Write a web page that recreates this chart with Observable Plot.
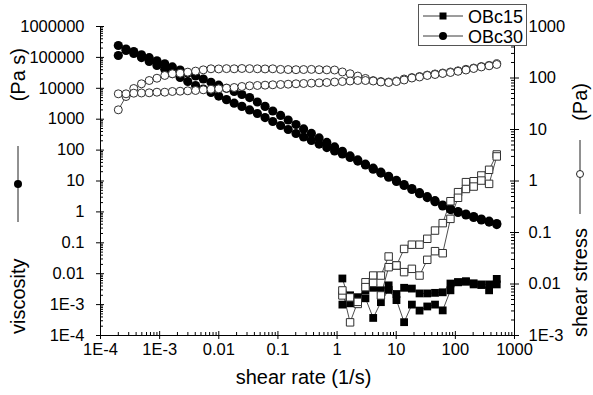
<!DOCTYPE html>
<html>
<head>
<meta charset="utf-8">
<script src="https://cdn.jsdelivr.net/npm/d3@7"></script>
<script src="https://cdn.jsdelivr.net/npm/@observablehq/plot@0.6"></script>
<style>
  body { margin: 0; background: #fff; }
  #wrap { position: relative; width: 593px; height: 395px; font-family: "Liberation Sans", Arial, sans-serif; }
  #overlay { position: absolute; left: 0; top: 0; pointer-events: none; }
</style>
</head>
<body>
<div id="wrap"></div>
<script>
// ---- data ----
const shearRate30 = [2.0e-4, 2.7e-4, 3.65e-4, 4.93e-4, 6.66e-4, 9.0e-4, 1.22e-3, 1.64e-3, 2.22e-3, 2.99e-3,
  4.05e-3, 5.47e-3, 7.38e-3, 9.97e-3, 0.0135, 0.0182, 0.0246, 0.0332, 0.0449, 0.0606,
  0.0818, 0.111, 0.149, 0.202, 0.272, 0.368, 0.497, 0.671, 0.908, 1.23,
  1.66, 2.24, 3.02, 4.08, 5.51, 7.45, 10.1, 13.6, 18.4, 24.8,
  33.5, 45.3, 61.1, 82.6, 111, 151, 204, 275, 372, 501];
const viscosity30A = [115000, 187000, 154000, 122000, 98000, 78000, 62000, 49000, 39000, 31000,
  25000, 20000, 15700, 12600, 10000, 7900, 6300, 5000, 3600, 2600,
  1840, 1320, 942, 673, 485, 347, 248, 177, 127, 91,
  65, 48, 35, 26, 19.3, 14.2, 10.4, 7.7, 5.7, 4.2,
  3.1, 2.3, 1.67, 1.27, 1.03, 0.85, 0.71, 0.59, 0.50, 0.42];
const stress30A = [24.1, 43.7, 62.5, 77.2, 89.4, 99, 112, 121, 124, 130,
  136, 144, 151, 150, 152, 151, 153, 152, 151, 150,
  151, 147, 146, 145, 146, 147, 145, 144, 143, 131,
  121, 109, 98, 89, 85.5, 83.6, 87.4, 95.6, 102, 107,
  114, 120, 125, 131, 138, 147.5, 156, 167, 176, 189];
const viscosity30B = [243000, 167000, 134000, 99000, 74000, 55000, 41000, 30000, 22400, 16600,
  12300, 9500, 7300, 5600, 4300, 3300, 2600, 2000, 1530, 1130,
  843, 625, 464, 345, 265, 205, 157, 121, 94, 75,
  58, 44, 33, 24, 18, 13.3, 9.7, 7.2, 5.3, 3.9,
  2.9, 2.15, 1.56, 1.19, 0.96, 0.80, 0.66, 0.55, 0.47, 0.39];
const stress30B = [49.3, 49.3, 50.7, 51.2, 51.6, 53, 53, 54.7, 55.4, 56.4,
  57.2, 59, 60.6, 61.7, 63.4, 65.4, 68.4, 70.6, 71.6, 72.6,
  73.8, 74.8, 75.8, 77.2, 78.2, 79.3, 80.5, 81.8, 83.7, 85.5,
  87.4, 89.4, 89.4, 87.4, 83.7, 81.8, 85.5, 91.5, 100, 104.6,
  112, 117, 122.5, 128, 135, 143, 153, 164, 172.5, 183];

const shearRate15 = [1.23, 1.66, 2.24, 3.02, 4.08, 5.51, 7.45, 10.1, 13.6, 18.4,
  24.8, 33.5, 45.3, 61.1, 82.6, 111, 151, 204, 275, 372, 501];
const viscosity15A = [7.0e-3, 1.1e-3, 1.74e-3, 2.9e-3, 3.5e-3, 2.9e-3, 4.2e-3, 2.2e-3, 3.5e-3, 3.3e-3,
  2.3e-3, 2.3e-3, 2.4e-3, 2.5e-3, 4.8e-3, 5.3e-3, 5.7e-3, 4.9e-3, 4.5e-3, 4.5e-3, 6.8e-3];
const viscosity15B = [1.0e-3, 2.0e-3, 1.2e-3, 1.6e-3, 3.7e-4, 1.2e-3, 3.0e-3, 1.4e-3, 2.7e-4, 1.0e-3,
  6.4e-4, 8.7e-4, 1.0e-3, 6.5e-4, 2.9e-3, 5.3e-3, 5.5e-3, 4.5e-3, 4.3e-3, 2.9e-3, 4.5e-3];
const stress15A = [6.0e-3, 5.5e-3, 4.1e-3, 0.0108, 0.0146, 0.0146, 0.0342, 0.0229, 0.048, 0.058,
  0.058, 0.0755, 0.109, 0.152, 0.405, 0.607, 0.95, 0.99, 1.28, 1.65, 3.27];
const stress15B = [7.5e-3, 1.8e-3, 4.5e-3, 8.7e-3, 0.0105, 6.0e-3, 0.0212, 0.0229, 0.017, 0.0197,
  0.0146, 0.0295, 0.0434, 0.0396, 0.184, 0.472, 0.70, 0.78, 1.02, 0.88, 3.0];

const xTickValues = [1e-4, 1e-3, 1e-2, 1e-1, 1, 10, 100, 1000];
const xTickLabels = ["1E-4", "1E-3", "0.01", "0.1", "1", "10", "100", "1000"];
const yLeftTickValues = [1e-4, 1e-3, 1e-2, 1e-1, 1, 10, 100, 1000, 1e4, 1e5, 1e6];
const yLeftTickLabels = ["1E-4", "1E-3", "0.01", "0.1", "1", "10", "100", "1000", "10000", "100000", "1000000"];
const yRightTickValues = [1e-3, 1e-2, 1e-1, 1, 10, 100, 1000];
const yRightTickLabels = ["1E-3", "0.01", "0.1", "1", "10", "100", "1000"];
const seriesNames = ["OBc15", "OBc30"];
const xTitle = "shear rate (1/s)";
const leftTitle = ["viscosity", "(Pa s)"];
const rightTitle = ["shear stress", "(Pa)"];

// ---- layout ----
const W = 593, H = 395;
const mL = 100, mR = 79, mT = 26, mB = 60;
const frameW = W - mL - mR, frameH = H - mT - mB;

// right axis (shear stress 1E-3..1000) mapped onto left scale (1E-4..1E6)
const toLeft = s => Math.pow(10, -4 + (Math.log10(s) + 3) * 10 / 6);

const rows = (xs, ys) => xs.map((x, i) => ({x, y: ys[i]}));
const v30A = rows(shearRate30, viscosity30A), v30B = rows(shearRate30, viscosity30B);
const s30A = rows(shearRate30, stress30A), s30B = rows(shearRate30, stress30B);
const v15A = rows(shearRate15, viscosity15A), v15B = rows(shearRate15, viscosity15B);
const s15A = rows(shearRate15, stress15A), s15B = rows(shearRate15, stress15B);

const minorsOf = (lo, hi) => { const out = []; for (let e = lo; e < hi; e++) for (let m = 2; m <= 9; m++) out.push(m * Math.pow(10, e)); return out; };
const xMinor = minorsOf(-4, 3);
const yMinor = minorsOf(-4, 6);
const rightMajorPos = yRightTickValues.map(toLeft);
const rightMinorPos = minorsOf(-3, 3).map(toLeft);

const xLab = new Map(xTickValues.map((v, i) => [v, xTickLabels[i]]));
const yLab = new Map(yLeftTickValues.map((v, i) => [v, yLeftTickLabels[i]]));
const rLab = new Map(rightMajorPos.map((v, i) => [v, yRightTickLabels[i]]));

const lineStyle = {stroke: "#3a3a3a", strokeWidth: 0.9};
const openStyle = {fill: "#fff", stroke: "#303030", strokeWidth: 1};

const chart = Plot.plot({
  width: W, height: H,
  marginLeft: mL, marginRight: mR, marginTop: mT, marginBottom: mB,
  x: {type: "log", domain: [1e-4, 1000]},
  y: {type: "log", domain: [1e-4, 1e6]},
  style: {fontFamily: "'Liberation Sans', Arial, sans-serif", fontSize: "16px", color: "#000", background: "#fff", overflow: "visible"},
  marks: [
    // axes lines
    Plot.ruleX([1e-4, 1000], {stroke: "#000", strokeWidth: 1}),
    Plot.ruleY([1e-4], {stroke: "#000", strokeWidth: 1}),
    // bottom axis
    Plot.axisX({ticks: xTickValues, tickFormat: d => xLab.get(d), tickSize: 4, tickPadding: 4, label: null, fontSize: 16.5}),
    Plot.ruleX(xTickValues, {x: d => d, insetTop: frameH - 4, stroke: "#000"}),
    Plot.ruleX(xMinor, {x: d => d, insetTop: frameH - 3, stroke: "#000"}),
    // left axis
    Plot.axisY({ticks: yLeftTickValues, tickFormat: d => yLab.get(d), tickSize: 4, tickPadding: 12, label: null, fontSize: 16.5}),
    Plot.ruleY(yLeftTickValues, {y: d => d, insetRight: frameW - 4, stroke: "#000"}),
    Plot.ruleY(yMinor, {y: d => d, insetRight: frameW - 3, stroke: "#000"}),
    // right axis
    Plot.axisY({anchor: "right", ticks: rightMajorPos, tickFormat: d => rLab.get(d), tickSize: 4, tickPadding: 10, label: null, fontSize: 16.5}),
    Plot.ruleY(rightMajorPos, {y: d => d, insetLeft: frameW - 4, stroke: "#000"}),
    Plot.ruleY(rightMinorPos, {y: d => d, insetLeft: frameW - 3, stroke: "#000"}),
    // x title
    Plot.text([xTitle], {frameAnchor: "bottom", textAnchor: "middle", dx: -4, dy: 42, fontSize: 20, lineAnchor: "middle"}),
    // connecting lines
    Plot.line(v30A, {x: "x", y: "y", ...lineStyle}),
    Plot.line(v30B, {x: "x", y: "y", ...lineStyle}),
    Plot.line(s30A, {x: "x", y: d => toLeft(d.y), ...lineStyle}),
    Plot.line(s30B, {x: "x", y: d => toLeft(d.y), ...lineStyle}),
    Plot.line(v15A, {x: "x", y: "y", ...lineStyle}),
    Plot.line(v15B, {x: "x", y: "y", ...lineStyle}),
    Plot.line(s15A, {x: "x", y: d => toLeft(d.y), ...lineStyle}),
    Plot.line(s15B, {x: "x", y: d => toLeft(d.y), ...lineStyle}),
    // markers: filled (viscosity)
    Plot.dot(v30A, {x: "x", y: "y", r: 4.6, fill: "#000", stroke: "none"}),
    Plot.dot(v30B, {x: "x", y: "y", r: 4.6, fill: "#000", stroke: "none"}),
    Plot.dot(v15A, {x: "x", y: "y", r: 4.4, symbol: "square", fill: "#000", stroke: "none"}),
    Plot.dot(v15B, {x: "x", y: "y", r: 4.4, symbol: "square", fill: "#000", stroke: "none"}),
    // markers: open (shear stress)
    Plot.dot(s30A, {x: "x", y: d => toLeft(d.y), r: 4, ...openStyle}),
    Plot.dot(s30B, {x: "x", y: d => toLeft(d.y), r: 4, ...openStyle}),
    Plot.dot(s15A, {x: "x", y: d => toLeft(d.y), r: 4.2, symbol: "square", ...openStyle}),
    Plot.dot(s15B, {x: "x", y: d => toLeft(d.y), r: 4.2, symbol: "square", ...openStyle})
  ]
});

const wrap = document.getElementById("wrap");
wrap.appendChild(chart);

// side titles (with inline line+symbol) and legend box
const ov = document.createElementNS("http://www.w3.org/2000/svg", "svg");
ov.setAttribute("id", "overlay");
ov.setAttribute("width", W);
ov.setAttribute("height", H);
ov.style.fontFamily = "'Liberation Sans', Arial, sans-serif";
ov.innerHTML = `
  <g font-size="20" fill="#000">
    <text transform="translate(18,334) rotate(-90)" dominant-baseline="central">${leftTitle[0]}</text>
    <line x1="18" x2="18" y1="146" y2="222" stroke="#222" stroke-width="1"/>
    <circle cx="18" cy="184" r="4" fill="#000"/>
    <text transform="translate(18,48) rotate(-90)" text-anchor="end" dominant-baseline="central">${leftTitle[1]}</text>

    <text transform="translate(580,337) rotate(-90)" dominant-baseline="central">${rightTitle[0]}</text>
    <line x1="580" x2="580" y1="140" y2="214" stroke="#222" stroke-width="1"/>
    <circle cx="580" cy="174" r="3.5" fill="#fff" stroke="#222" stroke-width="1"/>
    <text transform="translate(580,83) rotate(-90)" text-anchor="end" dominant-baseline="central">${rightTitle[1]}</text>
  </g>
  <g transform="translate(418,4)">
    <rect x="0.5" y="0.5" width="108" height="41" fill="#fff" stroke="#555" stroke-width="1"/>
    <line x1="5" x2="45" y1="12" y2="12" stroke="#3a3a3a" stroke-width="1"/>
    <rect x="21.5" y="8.5" width="7" height="7" fill="#000"/>
    <text x="50" y="18.5" font-size="18">${seriesNames[0]}</text>
    <line x1="5" x2="45" y1="32" y2="32" stroke="#3a3a3a" stroke-width="1"/>
    <circle cx="25" cy="32" r="4" fill="#000"/>
    <text x="50" y="38.5" font-size="18">${seriesNames[1]}</text>
  </g>`;
wrap.appendChild(ov);
</script>
</body>
</html>
